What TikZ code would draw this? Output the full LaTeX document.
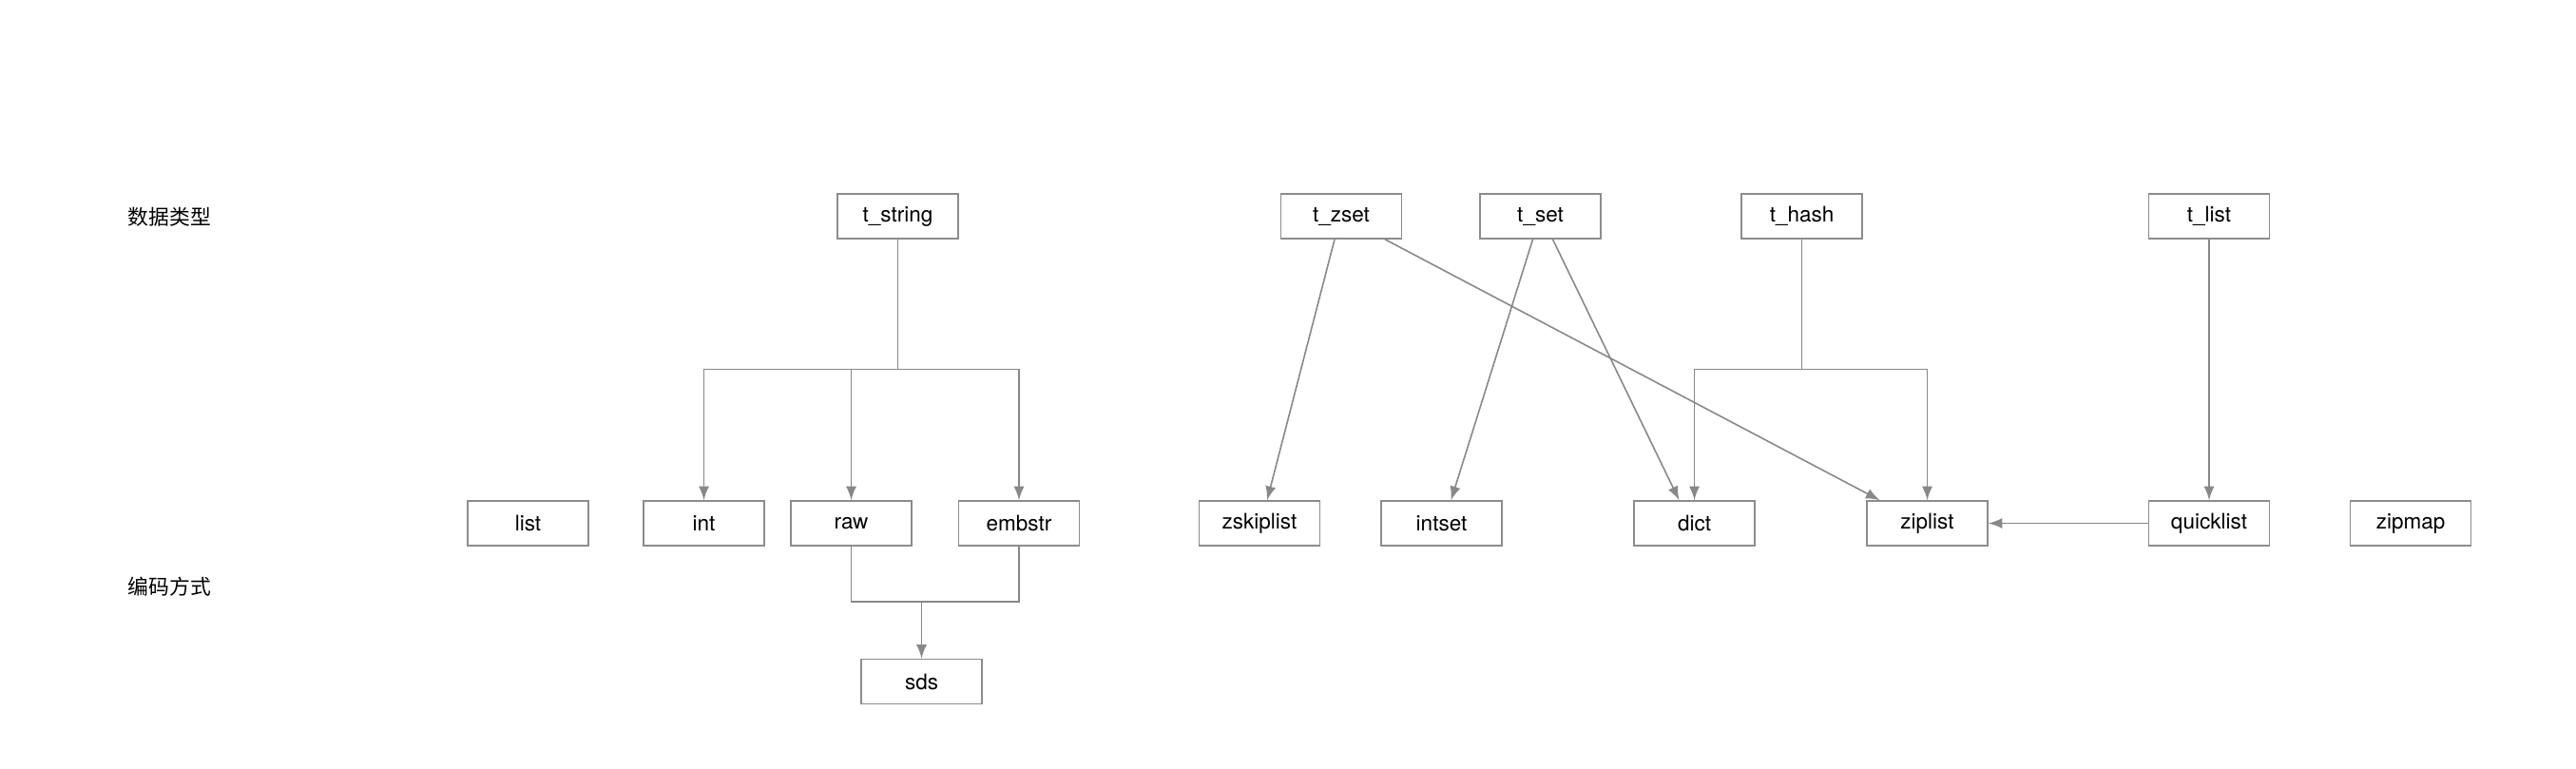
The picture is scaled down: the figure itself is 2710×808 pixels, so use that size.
\documentclass[tikz,border=0pt]{standalone}
\usepackage{fontspec}
\setmainfont{TeX Gyre Heros}
\newfontfamily\cjk{Noto Sans CJK SC}
\usetikzlibrary{arrows}

\begin{document}
\begin{tikzpicture}[x=0.01cm,y=-0.01cm]
    \definecolor{mygray}{RGB}{136,136,136}
    \definecolor{myframe}{RGB}{140,140,140}

    \fontsize{6.4pt}{8pt}\selectfont  % 字体大小
    \tikzstyle{format}=[rectangle,draw=myframe,line width=0.45pt,fill=white,minimum width=1.27cm,minimum height=0.47cm,inner sep=0pt]  % 方框
    \tikzstyle{label}=[anchor=west,inner sep=0pt,font=\cjk\fontsize{6.2pt}{8pt}\selectfont]
    \tikzstyle{line}=[draw=mygray,line width=0.45pt]
    \tikzstyle{arrow}=[line,-latex]
    \useasboundingbox (0,0) rectangle (2710,808);

    % 左侧说明
    \node[label](type) at (134,228){数据类型};
    \node[label](enc) at (134,617){编码方式};

    % 数据类型
    \node[format](tstring) at (944.5,227.5){t\_string};
    \node[format](tzset) at (1411,227.5){t\_zset};
    \node[format](tset) at (1620.5,227.5){t\_set};
    \node[format](thash) at (1895.5,227.5){t\_hash};
    \node[format](tlist) at (2324,227.5){t\_list};

    % 编码方式
    \node[format](list) at (555.5,550.5){list};
    \node[format](int) at (740.5,550.5){int};
    \node[format](raw) at (895.5,550.5){raw};
    \node[format](embstr) at (1072,550.5){embstr};
    \node[format](zskiplist) at (1325,550.5){zskiplist};
    \node[format](intset) at (1516.5,550.5){intset};
    \node[format](dict) at (1782.5,550.5){dict};
    \node[format](ziplist) at (2027.5,550.5){ziplist};
    \node[format](quicklist) at (2324,550.5){quicklist};
    \node[format](zipmap) at (2536,550.5){zipmap};
    \node[format](sds) at (969.5,717){sds};

    % 分叉点
    \coordinate (s0) at (944.5,388.5);
    \coordinate (s1) at (969.5,633);
    \coordinate (h0) at (1895.5,388.5);

    % 开始画线
    \draw[line](tstring)--(s0);
    \draw[arrow](s0)-|(int);
    \draw[arrow](s0)-|(raw);
    \draw[arrow](s0)-|(embstr);
    \draw[line](raw)|-(s1);
    \draw[line](embstr)|-(s1);
    \draw[arrow](s1)--(sds);
    \draw[arrow]([xshift=-0.07cm]tzset.south)--([xshift=0.08cm]zskiplist.north);
    \draw[arrow]([xshift=0.46cm]tzset.south)--([xshift=-0.5cm]ziplist.north);
    \draw[arrow]([xshift=-0.08cm]tset.south)--([xshift=0.1cm]intset.north);
    \draw[arrow]([xshift=0.13cm]tset.south)--([xshift=-0.16cm]dict.north);
    \draw[line](thash)--(h0);
    \draw[arrow](h0)-|(dict);
    \draw[arrow](h0)-|(ziplist);
    \draw[arrow](tlist)--(quicklist);
    \draw[arrow](quicklist)--(ziplist);
\end{tikzpicture}
\end{document}
